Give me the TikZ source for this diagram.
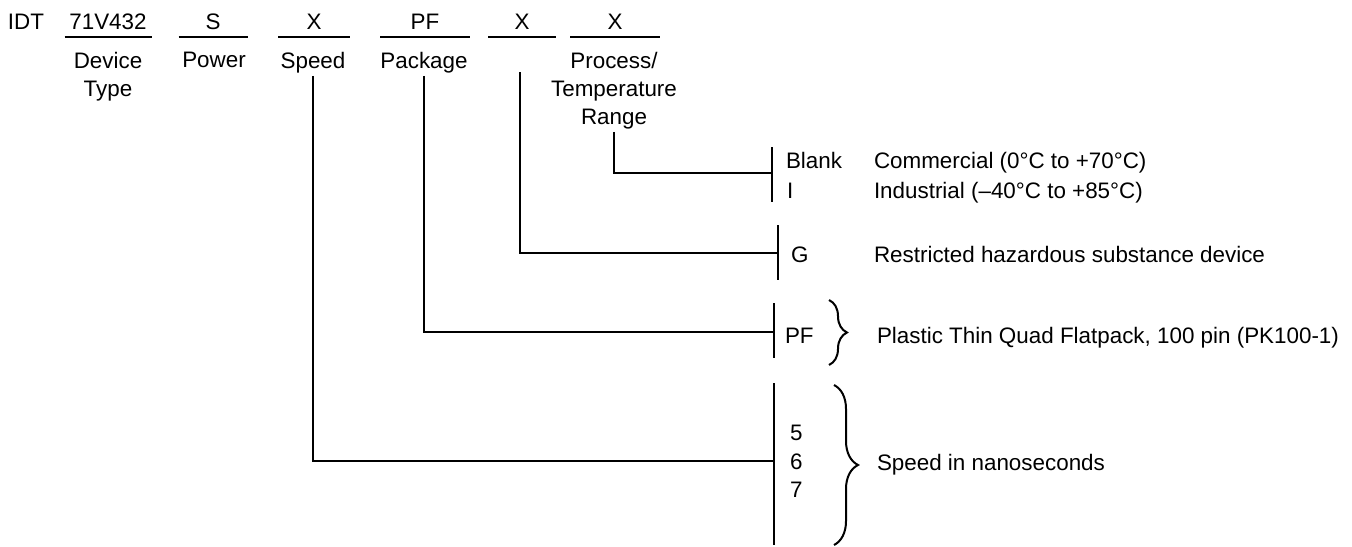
\documentclass[tikz,border=0pt]{standalone}
\usepackage{fontspec}
\setmainfont{Liberation Sans}
\usetikzlibrary{decorations.pathreplacing}

\begin{document}
\begin{tikzpicture}[x=.5pt,y=-.5pt,line width=1pt,font=\fontsize{11.2}{14}\selectfont,
    codeline/.style={line width=1.2pt},
    fieldlbl/.style={anchor=north,align=center,inner sep=1pt},
    opttxt/.style={anchor=base west,inner sep=0pt},
    optbrace/.style={decorate,decoration={brace,amplitude=#1}}]
    \useasboundingbox (0,0) rectangle (1352,546);
    \node[anchor=base] (idt) at (26,29) {IDT};
    \foreach \nm/\x/\w/\t in {dev/108/87/71V432,pwr/213/69/S,spd/314/72/X,
                              pkg/425/90/PF,hsf/522/68/X,tmp/615/90/X} {
      \node[anchor=base] (\nm) at (\x,29) {\t};
      \draw[codeline] (\x-\w/2,37)--(\x+\w/2,37);
    }
    \node[fieldlbl] (devlbl) at (108,49) {Device\\Type};
    \node[fieldlbl] (pwrlbl) at (214,49) {Power};
    \node[fieldlbl] (spdlbl) at (313,49) {Speed};
    \node[fieldlbl] (pkglbl) at (424,49) {Package};
    \node[fieldlbl] (tmplbl) at (614,49) {Process/\\Temperature\\Range};
    \coordinate (hsfree) at (520,72);
    \coordinate (tmpbar) at (772,173);
    \coordinate (hsfbar) at (778,253);
    \coordinate (pkgbar) at (774,332);
    \coordinate (spdbar) at (774,461);
    \foreach \x/\a/\b in {772/147/202,778/225/280,774/303/358,774/383/545} {
      \draw (\x,\a)--(\x,\b);
    }
    \draw (tmplbl.south) |- (tmpbar);
    \draw (hsfree) |- (hsfbar);
    \draw (pkglbl.south) |- (pkgbar);
    \draw (spdlbl.south) |- (spdbar);
    \node[opttxt] (blank) at (785,168) {Blank};
    \node[opttxt] (ind) at (786,198) {I};
    \node[opttxt] (comtxt) at (873,168) {Commercial (0°C to +70°C)};
    \node[opttxt] (indtxt) at (873,198) {Industrial (–40°C to +85°C)};
    \node[opttxt] (g) at (790,262) {G};
    \node[opttxt] (gtxt) at (873,262) {Restricted hazardous substance device};
    \node[opttxt] (pf) at (784,343) {PF};
    \node[opttxt] (pftxt) at (876,343) {Plastic Thin Quad Flatpack, 100 pin (PK100-1)};
    \foreach \nm/\y in {5/440,6/469,7/497} {
      \node[opttxt] (ns\nm) at (789,\y) {\nm};
    }
    \node[opttxt] (nstxt) at (876,470) {Speed in nanoseconds};
    \draw[optbrace=9pt] (829,300)--(829,365);
    \draw[optbrace=12pt] (834,385)--(834,545);
  \end{tikzpicture}
\end{document}
